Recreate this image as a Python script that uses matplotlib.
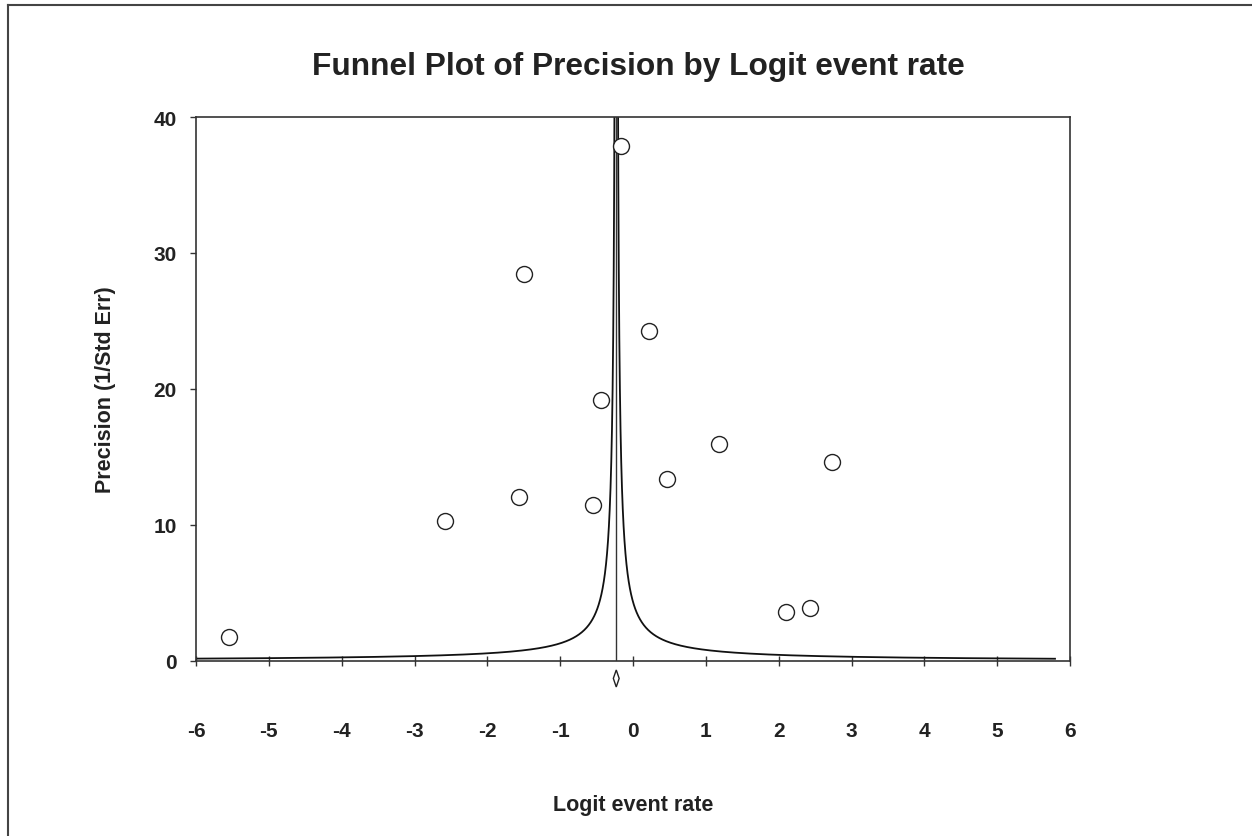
import matplotlib
matplotlib.use("Agg")
import matplotlib.pyplot as plt
import numpy as np
from matplotlib.lines import Line2D
from matplotlib.patches import Polygon

plt.rcParams['font.family'] = ['Liberation Sans', 'DejaVu Sans']

# ---- data ----
logit_rate = [-5.55, -2.58, -1.57, -1.49, -0.545, -0.435, -0.17, 0.22, 0.46, 1.185, 2.10, 2.43, 2.73]
precision = [1.79, 10.29, 12.04, 28.43, 11.5, 19.19, 37.87, 24.26, 13.38, 15.93, 3.58, 3.90, 14.65]
summary_effect = -0.23
summary_ci_half = 0.04
funnel_z = 1.0
funnel_pmin = 0.166
x_ticks = [-6, -5, -4, -3, -2, -1, 0, 1, 2, 3, 4, 5, 6]
y_ticks = [0, 10, 20, 30, 40]
title = "Funnel Plot of Precision by Logit event rate"
xlabel = "Logit event rate"
ylabel = "Precision (1/Std Err)"

W, H = 1252, 837
fig = plt.figure(figsize=(W / 100, H / 100), dpi=100)
ax = fig.add_axes([196 / W, 1 - 662 / H, (1070 - 196) / W, (662 - 118) / H])

# funnel
p = np.geomspace(funnel_pmin, 45, 600)
ax.plot(summary_effect - funnel_z / p, p, color='#111111', lw=1.3, zorder=2)
ax.plot(summary_effect + funnel_z / p, p, color='#111111', lw=1.3, zorder=2)
ax.plot([summary_effect, summary_effect], [0, 40], color='#333333', lw=1.0, zorder=2)

# studies
ax.plot(logit_rate, precision, 'o', ms=11.5, mfc='white', mec='#222222', mew=1.0,
        zorder=3, clip_on=False)

# summary diamond
dia = Polygon([[summary_effect - summary_ci_half, -1.28], [summary_effect, -0.66],
               [summary_effect + summary_ci_half, -1.28], [summary_effect, -1.91]],
              closed=True, facecolor='white', edgecolor='#222222', lw=1.0, clip_on=False)
ax.add_patch(dia)

ax.set_xlim(-6, 6)
ax.set_ylim(0, 40)
ax.set_xticks(x_ticks)
ax.set_yticks(y_ticks)
ax.set_xticklabels([str(t) for t in x_ticks], fontsize=15, fontweight='bold', color='#222222')
ax.set_yticklabels([str(t) for t in y_ticks], fontsize=15, fontweight='bold', color='#222222')
ax.tick_params(axis='x', direction='inout', length=7, width=1.0, pad=40, color='#333333')
ax.tick_params(axis='y', direction='out', length=4, width=1.0, pad=10, color='#333333')
for s in ax.spines.values():
    s.set_linewidth(1.2)
    s.set_color('#333333')

ax.set_xlabel(xlabel, fontsize=15.5, fontweight='bold', color='#222222')
ax.xaxis.set_label_coords(0.5, -0.2445)
ax.set_ylabel(ylabel, fontsize=15.5, fontweight='bold', color='#222222')
ax.yaxis.set_label_coords(-0.0915, 0.5)

fig.text(638 / W, 1 - 67 / H, title, ha='center', va='center', fontsize=22.8,
         fontweight='bold', color='#222222')

# outer frame
fig.add_artist(Line2D([8 / W, 8 / W], [0, 1 - 6 / H], transform=fig.transFigure,
                      color='#444444', lw=1.5))
fig.add_artist(Line2D([8 / W, 1], [1 - 6 / H, 1 - 6 / H], transform=fig.transFigure,
                      color='#444444', lw=1.5))

fig.savefig('out.png', dpi=100)
